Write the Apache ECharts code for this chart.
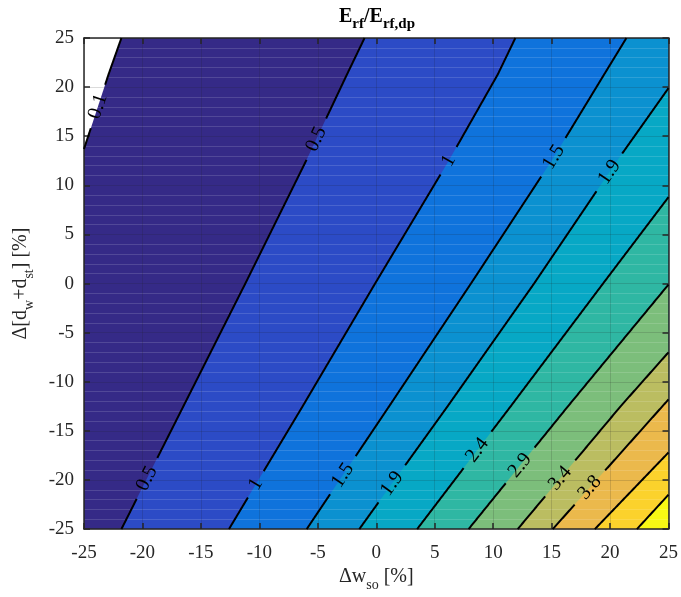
<!DOCTYPE html>
<html>
<head>
<meta charset="utf-8">
<script src="https://cdn.jsdelivr.net/npm/echarts@6/dist/echarts.min.js"></script>
<style>
  html, body { margin: 0; padding: 0; background: #fff; }
  #chart { width: 681px; height: 597px; }
</style>
</head>
<body>
<div id="chart"></div>
<script>
// contour levels and the text printed on the lines ('' = unlabelled)
const levels = [0.1, 0.5, 1, 1.5, 1.9, 2.4, 2.9, 3.4, 3.8, 4.3, 4.7]
const levelText = ['0.1', '0.5', '1', '1.5', '1.9', '2.4', '2.9', '3.4', '3.8', '', '']

// contour lines as [dw_so, d_w+d_st], upper end first
const c01 = [[-21.8, 25], [-22.9, 21.3], [-25, 13.7]]
const c05 = [[-1.0, 25], [-2.5, 21.3], [-6.0, 12.5], [-11.2, 0], [-16.5, -12.5], [-21.8, -25]]
const c10 = [[11.9, 25], [10.4, 21.3], [6.2, 12.5], [-0.1, 0], [-6.3, -12.5], [-12.6, -25]]
const c15 = [[21.4, 25], [19.5, 21.3], [15.0, 12.5], [8.1, 0], [1.1, -12.5], [-5.95, -25]]
const c19 = [[25, 19.9], [20.6, 12.5], [13.5, 0], [6.1, -12.5], [-1.45, -25]]
const c24 = [[25, 8.8], [19.4, 0], [11.5, -12.5], [3.5, -25]]
const c29 = [[25, -0.1], [16.4, -12.5], [7.9, -25]]
const c34 = [[25, -7.0], [20.9, -12.5], [12.1, -25]]
const c38 = [[25, -11.8], [24.4, -12.6], [15.1, -25]]
const c43 = [[25, -17.2], [18.7, -25]]
const c47 = [[25, -21.5], [22.3, -25]]
const contours = [c01, c05, c10, c15, c19, c24, c29, c34, c38, c43, c47]

// where the inline labels sit on each line
const labelPos = [
  [[-23.7, 18.0]],
  [[-5.15, 14.7], [-19.7, -19.8]],
  [[6.2, 12.5], [-10.5, -20.3]],
  [[15.0, 13.0], [-2.9, -19.5]],
  [[20.0, 11.3], [1.25, -20.3]],
  [[8.8, -17.1]],
  [[12.5, -18.7]],
  [[15.8, -19.9]],
  [[18.1, -20.6]],
  [],
  []
]

// fill above each level (parula)
const bandColors = ['#352a87', '#2c4bc6', '#0f73dc', '#0b91d0', '#07a8c5', '#2fb7a3',
  '#7cbe7b', '#bbbd61', '#ebb94c', '#fbd22c', '#f8f914']

const XMIN = -25, XMAX = 25, YMIN = -25, YMAX = 25
const SERIF = '"Liberation Serif", "Times New Roman", serif'
const LABEL_FONT = '20px ' + SERIF

// position of a boundary point along the box, counter-clockwise from top-left
function perim(p) {
  const e = 1e-6
  if (Math.abs(p[0] - XMIN) < e) return YMAX - p[1]
  if (Math.abs(p[1] - YMIN) < e) return 50 + (p[0] - XMIN)
  if (Math.abs(p[0] - XMAX) < e) return 100 + (p[1] - YMIN)
  return 150 + (XMAX - p[0])
}
const corners = [[0, [XMIN, YMAX]], [50, [XMIN, YMIN]], [100, [XMAX, YMIN]], [150, [XMAX, YMAX]]]

function bandPolygon(line) {
  const a = perim(line[line.length - 1])
  let b = perim(line[0])
  if (b < a) b += 200
  const pts = line.slice()
  corners.forEach(([t, c]) => {
    if ((t > a && t < b) || (t + 200 > a && t + 200 < b)) pts.push(c)
  })
  return pts
}

const measureCtx = document.createElement('canvas').getContext('2d')
function textWidth(s) {
  measureCtx.font = LABEL_FONT
  return measureCtx.measureText(s).width
}

// nearest point on a pixel polyline + the text angle there
function snap(pts, q) {
  let best = null
  for (let k = 0; k < pts.length - 1; k++) {
    const a = pts[k], b = pts[k + 1]
    const dx = b[0] - a[0], dy = b[1] - a[1]
    const len2 = dx * dx + dy * dy
    let t = ((q[0] - a[0]) * dx + (q[1] - a[1]) * dy) / len2
    t = Math.max(0, Math.min(1, t))
    const p = [a[0] + t * dx, a[1] + t * dy]
    const d = Math.hypot(p[0] - q[0], p[1] - q[1])
    if (!best || d < best.d) {
      let ang = Math.atan2(-dy, dx)
      if (ang > Math.PI / 2) ang -= Math.PI
      if (ang < -Math.PI / 2) ang += Math.PI
      best = { d, pt: p, angle: ang }
    }
  }
  return best
}

// break a pixel polyline where the labels sit
function splitWithGaps(pts, centers, r) {
  const runs = []
  let cur = []
  const keep = p => centers.every(c => Math.hypot(p[0] - c[0], p[1] - c[1]) > r)
  for (let k = 0; k < pts.length - 1; k++) {
    const a = pts[k], b = pts[k + 1]
    const n = Math.max(1, Math.ceil(Math.hypot(b[0] - a[0], b[1] - a[1])))
    for (let j = (k === 0 ? 0 : 1); j <= n; j++) {
      const p = [a[0] + (b[0] - a[0]) * j / n, a[1] + (b[1] - a[1]) * j / n]
      if (keep(p)) cur.push(p)
      else if (cur.length) { runs.push(cur); cur = [] }
    }
  }
  if (cur.length > 1) runs.push(cur)
  return runs.filter(r => r.length > 1)
}

const main = { fontFamily: SERIF, fontSize: 20, color: '#262626', lineHeight: 30 }
const sub = { fontFamily: SERIF, fontSize: 14, color: '#262626', lineHeight: 14, verticalAlign: 'bottom' }

const axisLineStyle = { color: '#262626', width: 1.5 }
const gridLine = { show: true, lineStyle: { color: 'rgba(30,30,30,0.16)', width: 1 } }

const chart = echarts.init(document.getElementById('chart'))

chart.setOption({
  animation: false,
  title: {
    text: '{m|E}{s|rf}{m|/E}{s|rf,dp}',
    left: 377,
    top: 2,
    padding: 0,
    textAlign: 'center',
    textStyle: {
      rich: {
        m: { fontFamily: SERIF, fontSize: 20, fontWeight: 'bold', color: '#000', lineHeight: 30 },
        s: { fontFamily: SERIF, fontSize: 15, fontWeight: 'bold', color: '#000', lineHeight: 15, verticalAlign: 'bottom' }
      }
    }
  },
  grid: { left: 84, right: 11, top: 38, bottom: 64 },
  xAxis: [
    {
      type: 'value', min: XMIN, max: XMAX, interval: 5, position: 'bottom', z: 10,
      axisLine: { onZero: false, lineStyle: axisLineStyle },
      axisTick: { inside: true, length: 6, lineStyle: axisLineStyle },
      axisLabel: { color: '#262626', fontSize: 19, fontFamily: SERIF, margin: 14 },
      splitLine: gridLine,
      name: '{m|Δw}{s|so}{m| [%]}',
      nameLocation: 'middle',
      nameGap: 24,
      nameTextStyle: { rich: { m: main, s: sub } }
    },
    {
      type: 'value', min: XMIN, max: XMAX, interval: 5, position: 'top', z: 10,
      axisLine: { onZero: false, lineStyle: axisLineStyle },
      axisTick: { inside: true, length: 6, lineStyle: axisLineStyle },
      axisLabel: { show: false },
      splitLine: { show: false }
    }
  ],
  yAxis: [
    {
      type: 'value', min: YMIN, max: YMAX, interval: 5, position: 'left', z: 10,
      axisLine: { onZero: false, lineStyle: axisLineStyle },
      axisTick: { inside: true, length: 6, lineStyle: axisLineStyle },
      axisLabel: { color: '#262626', fontSize: 19, fontFamily: SERIF, margin: 10 },
      splitLine: gridLine,
      minorTick: { show: false, splitNumber: 5 },
      minorSplitLine: { show: true, lineStyle: { color: 'rgba(255,255,255,0.14)', width: 1 } },
      name: '{m|Δ[d}{s|w}{m|+d}{s|st}{m|] [%]}',
      nameLocation: 'middle',
      nameGap: 48,
      nameTextStyle: { rich: { m: main, s: sub } }
    },
    {
      type: 'value', min: YMIN, max: YMAX, interval: 5, position: 'right', z: 10,
      axisLine: { onZero: false, lineStyle: axisLineStyle },
      axisTick: { inside: true, length: 6, lineStyle: axisLineStyle },
      axisLabel: { show: false },
      splitLine: { show: false }
    }
  ],
  series: [
    {
      name: 'bands',
      type: 'custom',
      coordinateSystem: 'cartesian2d',
      silent: true,
      z: 2,
      data: levels.map((lv, i) => [i]),
      renderItem: (params, api) => {
        const i = params.dataIndex
        const pts = bandPolygon(contours[i]).map(p => api.coord(p))
        return { type: 'polygon', shape: { points: pts }, style: { fill: bandColors[i] } }
      }
    },
    {
      name: 'contours',
      type: 'custom',
      coordinateSystem: 'cartesian2d',
      silent: true,
      z: 20,
      data: levels.map((lv, i) => [i]),
      renderItem: (params, api) => {
        const i = params.dataIndex
        const pts = contours[i].map(p => api.coord(p))
        const labs = labelPos[i].map(p => snap(pts, api.coord(p)))
        const r = levelText[i] ? textWidth(levelText[i]) / 2 + 10 : 0
        const children = splitWithGaps(pts, labs.map(l => l.pt), r).map(seg => ({
          type: 'polyline',
          shape: { points: seg },
          style: { stroke: '#000', lineWidth: 2, fill: null }
        }))
        labs.forEach(l => children.push({
          type: 'text',
          x: l.pt[0], y: l.pt[1],
          rotation: l.angle,
          style: { text: levelText[i], fill: '#000', font: LABEL_FONT, align: 'center', verticalAlign: 'middle' }
        }))
        return { type: 'group', children }
      }
    }
  ]
})
</script>
</body>
</html>
